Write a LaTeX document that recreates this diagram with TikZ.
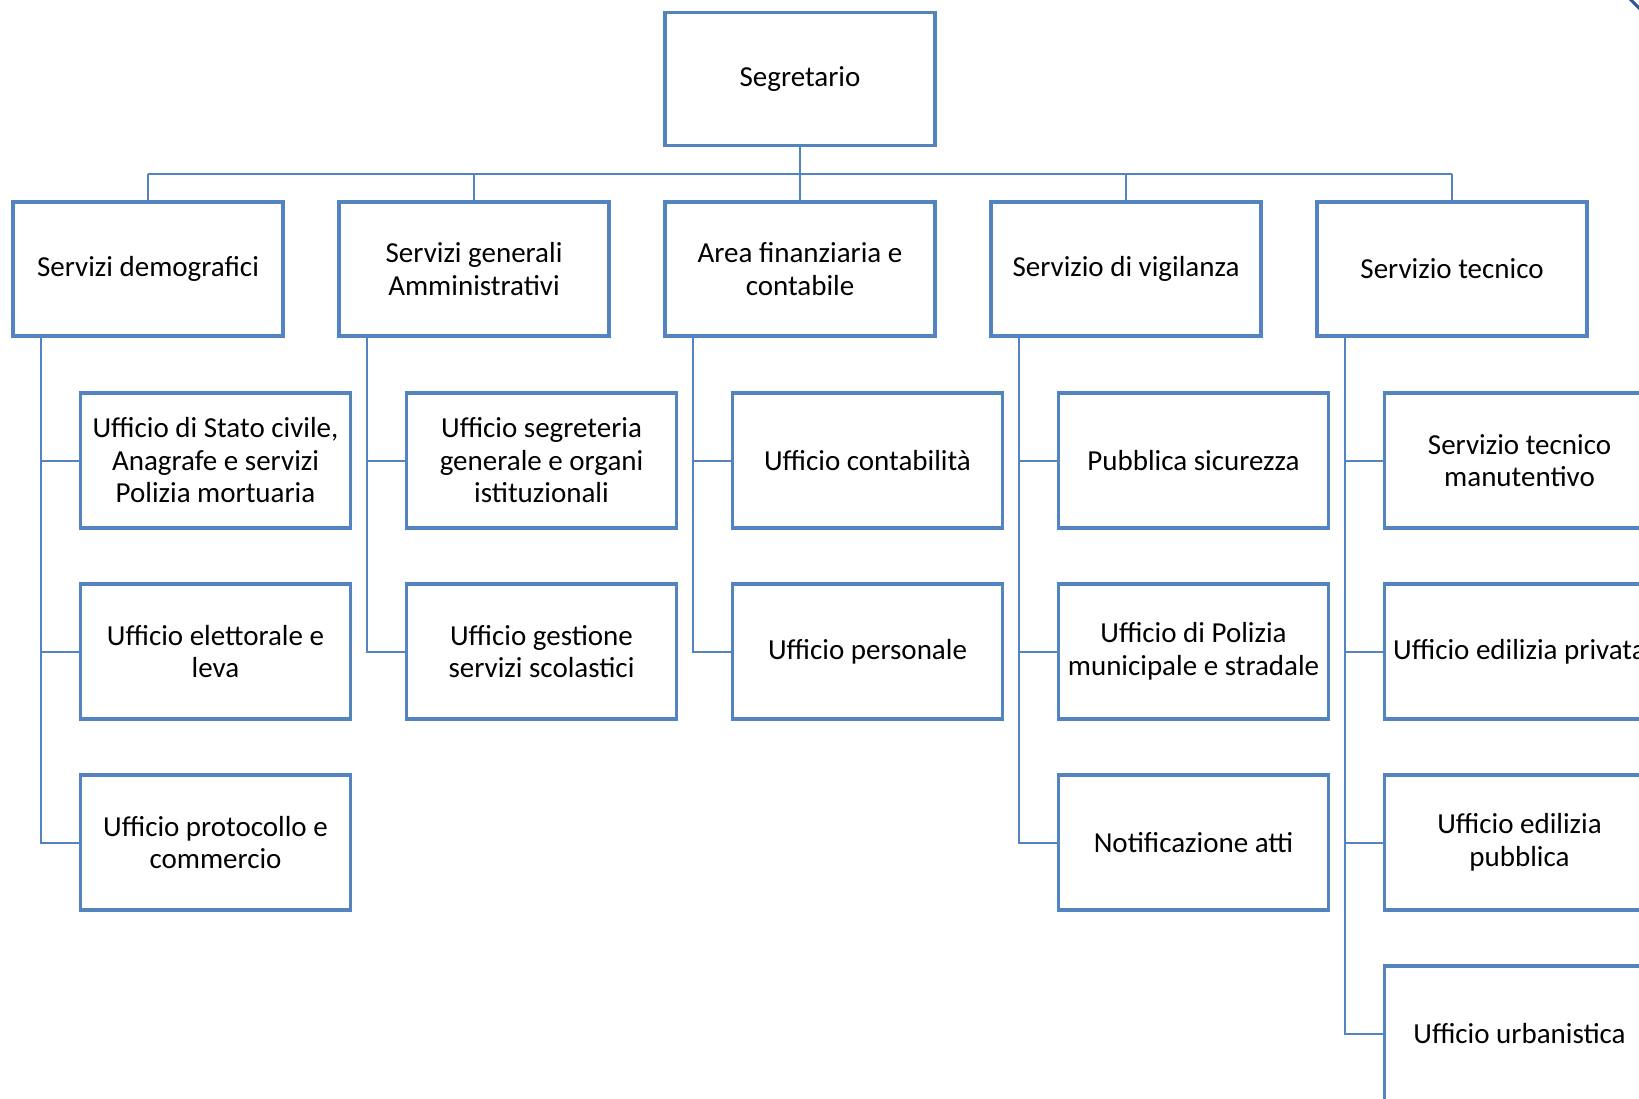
\documentclass[tikz,border=0pt]{standalone}
\usepackage{fontspec}
\setmainfont{Carlito}
\definecolor{boxblue}{RGB}{84,132,192}
\definecolor{darkblue}{RGB}{47,85,151}
\begin{document}
\begin{tikzpicture}[x=1pt,y=-1pt,
  box/.style={draw=boxblue,line width=3.2pt,fill=white,rectangle,anchor=north west,
    minimum width=270pt,minimum height=134pt,inner sep=0pt,outer sep=0pt,align=center,
    font=\fontsize{29}{32.5}\selectfont},
  conn/.style={draw=boxblue,line width=2pt}]
\useasboundingbox (0,0) rectangle (1639,1099);
\clip (0,0) rectangle (1639,1099);
% top level
\node[box,minimum height=133pt] (seg) at (665,12.5) {Segretario};
% second level
\node[box] (d1) at (13,202) {Servizi demografici};
\node[box] (d2) at (339,202) {Servizi generali\\Amministrativi};
\node[box] (d3) at (665,202) {Area finanziaria e\\contabile};
\node[box] (d4) at (991,202) {Servizio di vigilanza};
\node[box] (d5) at (1317,202) {Servizio tecnico};
% children
\node[box,minimum height=135pt] (c11) at (80.5,393) {Ufficio di Stato civile,\\Anagrafe e servizi\\Polizia mortuaria};
\node[box,minimum height=135pt] (c12) at (80.5,584) {Ufficio elettorale e\\leva};
\node[box,minimum height=135pt] (c13) at (80.5,775) {Ufficio protocollo e\\commercio};
\node[box,minimum height=135pt] (c21) at (406.5,393) {Ufficio segreteria\\generale e organi\\istituzionali};
\node[box,minimum height=135pt] (c22) at (406.5,584) {Ufficio gestione\\servizi scolastici};
\node[box,minimum height=135pt] (c31) at (732.5,393) {Ufficio contabilità};
\node[box,minimum height=135pt] (c32) at (732.5,584) {Ufficio personale};
\node[box,minimum height=135pt] (c41) at (1058.5,393) {Pubblica sicurezza};
\node[box,minimum height=135pt] (c42) at (1058.5,584) {Ufficio di Polizia\\municipale e stradale};
\node[box,minimum height=135pt] (c43) at (1058.5,775) {Notificazione atti};
\node[box,minimum height=135pt] (c51) at (1384.5,393) {Servizio tecnico\\manutentivo};
\node[box,minimum height=135pt] (c52) at (1384.5,584) {Ufficio edilizia privata};
\node[box,minimum height=135pt] (c53) at (1384.5,775) {Ufficio edilizia\\pubblica};
\node[box,minimum height=135pt] (c54) at (1384.5,966) {Ufficio urbanistica};
% bus
\coordinate (bus) at ([yshift=-29pt]seg.south);
\draw[conn,line width=2.8pt] (seg.south) -- (bus);
\draw[conn] (bus -| d1.north) -- (bus -| d5.north);
\foreach \d in {d1,d2,d3,d4,d5} \draw[conn] (bus -| \d.north) -- (\d.north);
% branches
\foreach \p/\c in {d1/c11,d1/c12,d1/c13,d2/c21,d2/c22,d3/c31,d3/c32,d4/c41,d4/c42,d4/c43,d5/c51,d5/c52,d5/c53,d5/c54}
  \draw[conn] ([xshift=28pt]\p.south west) |- (\c.west);
% fragment at top right
\coordinate (fa) at (1630,-1);
\coordinate (fb) at (1642,11);
\draw[darkblue,line width=3pt] (fa) -- (fb);
\end{tikzpicture}
\end{document}
